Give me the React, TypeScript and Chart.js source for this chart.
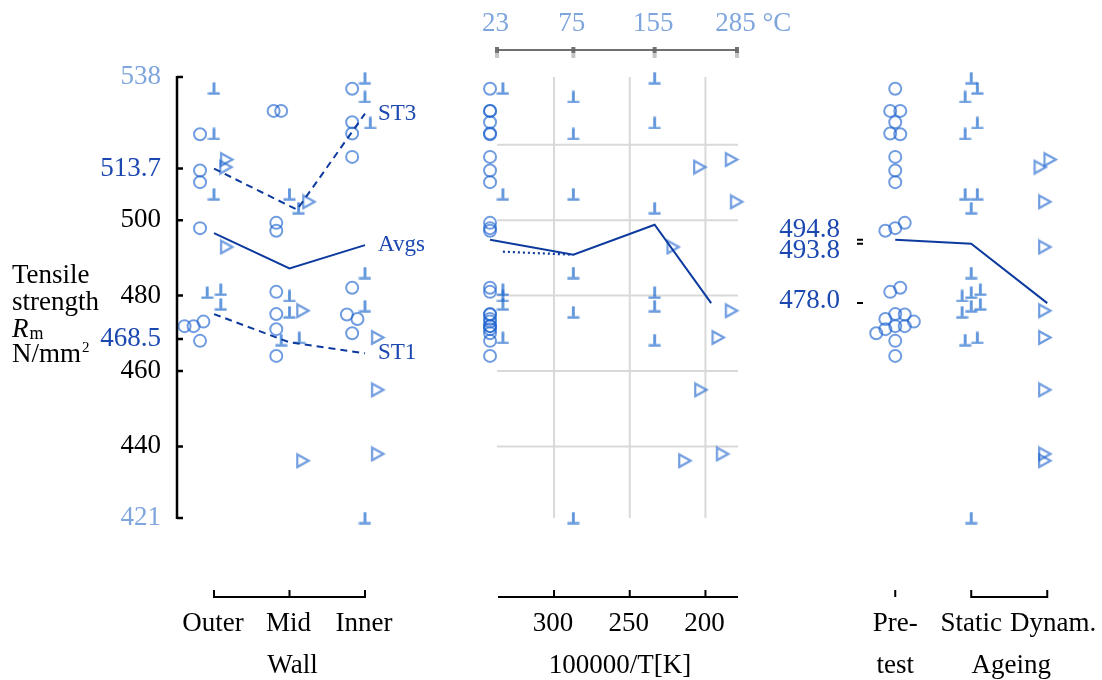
import React, { useEffect, useRef } from 'react';
import { Chart, registerables } from 'chart.js';

Chart.register(...registerables);

// ---------------- data ----------------
const wallPositions = ['Outer', 'Mid', 'Inner'];
const wallTitle = 'Wall';
const ageingLabels = [['Pre-', 'test'], ['Static'], ['Dynam.']];
const ageingTitle = 'Ageing';
const tempTicksC = [23, 75, 155, 285];
const tempUnit = '°C';
const invTTicks = [300, 250, 200];
const invTTitle = '100000/T[K]';
const rmTicks = [421, 440, 460, 468.5, 480, 500, 513.7, 538];
const rmGrid = [440, 460, 480, 500, 520];
const seriesNames = ['ST3', 'Avgs', 'ST1'];

// pre-test specimens (○), grouped Outer / Mid / Inner
const pretestRm = [
  522.8, 513.2, 510.1, 497.9, 471.9, 471.9, 473.1, 468.0,
  529.0, 529.0, 499.3, 497.2, 481.0, 475.1, 471.1, 464.0,
  534.9, 526.0, 523.0, 516.8, 482.1, 475.0, 473.8, 470.0,
];
const pretestWall = [0, 0, 0, 0, 0, 0, 0, 0, 1, 1, 1, 1, 1, 1, 1, 1, 2, 2, 2, 2, 2, 2, 2, 2];

// static ageing specimens (⊥)
const staticRm = [
  537.7, 535.0, 532.7, 525.8, 522.9, 506.9, 506.9, 503.2, 486.0,
  481.6, 480.8, 479.9, 477.7, 477.2, 475.6, 468.2, 468.8, 421.0,
];
const staticWall = [2, 0, 2, 2, 0, 0, 1, 1, 2, 0, 0, 1, 0, 2, 1, 1, 1, 2];
const staticTempC = [155, 23, 75, 155, 75, 23, 75, 155, 75, 23, 155, 23, 23, 155, 75, 155, 23, 75];

// dynamic ageing specimens (▷)
const dynamicRm = [516.1, 514.1, 492.9, 504.9, 476.0, 436.2, 468.9, 455.0, 438.0];
const dynamicWall = [0, 0, 0, 1, 1, 1, 2, 2, 2];
const dynamicInvT = [182.7, 203.6, 221.2, 179.3, 182.7, 213.5, 191.5, 202.9, 188.6];

// trend lines across the wall
const st3Rm = [513.7, 502.8, 528.3];
const avgWallRm = [496.6, 487.2, 493.4];
const st1Rm = [475.1, 467.6, 464.7];

// ---------------- layout (swarm offsets, in category units) ----------------
const pretestWallDx = [
  -0.185, -0.185, -0.185, -0.185, -0.39, -0.27, -0.14, -0.185,
  -0.21, -0.11, -0.175, -0.175, -0.175, -0.175, -0.175, -0.175,
  -0.17, -0.17, -0.17, -0.17, -0.17, -0.24, -0.1, -0.17,
];
const pretestAgeDx = [
  0.066, 0, 0, 0, 0, 0.125, 0.245, 0,
  -0.066, 0.066, 0.125, -0.13, -0.066, 0, -0.13, 0,
  0, 0, -0.066, 0, 0.066, 0.125, -0.13, -0.25,
];
const staticWallDx = [0, 0, 0, 0.07, 0, 0, 0, 0.12, 0, 0.09, -0.09, 0, 0.09, 0, 0, -0.11, 0.13, 0];
const staticAgeDx = [0, 0.08, -0.08, 0.08, -0.08, -0.08, 0.08, 0, 0, 0.12, 0, -0.12, 0.12, 0, -0.12, -0.08, 0.08, 0];
const dynamicWallDx = [0.17, 0.16, 0.17, 0.26, 0.18, 0.18, 0.17, 0.17, 0.17];
const dynamicAgeDx = [0.04, -0.09, -0.03, -0.03, -0.03, -0.03, -0.03, -0.03, -0.03];
const st3Dx = [0, 0.1, 0];
const PRE_COLUMN_SHIFT = 4.6; // ○ column beside 23 °C (100000/T units)
const STATIC_23_SHIFT = -3.9; // ⊥ column beside 23 °C

const W = 1102;
const H = 680;
const PLOT_TOP = 77;
const PLOT_BOTTOM = 518;

const SERIF = '"Liberation Serif", "Times New Roman", serif';
const FONT = `27px ${SERIF}`;
const LABEL_FONT = `23px ${SERIF}`;
const INK = '#000000';
const PALE_TEXT = '#7ea6dd';
const DEEP_TEXT = '#1b47b0';
const LINE = '#0d3a9e';
const MARK = 'rgba(25, 95, 205, 0.62)';
const TACK = 'rgba(30, 105, 205, 0.72)';
const GRID = '#d9d9d9';
const AXIS_GRAY = '#707070';

const RM_MIN = rmTicks[0];
const RM_MAX = rmTicks[rmTicks.length - 1];

const invT = (c: number) => 100000 / (c + 273.15);
const mean = (a: number[]) => a.reduce((s, v) => s + v, 0) / a.length;
const staticAt = (t: number) => staticRm.filter((_, i) => staticTempC[i] === t);

function tackMarker() {
  const c = document.createElement('canvas');
  c.width = 13;
  c.height = 13;
  const g = c.getContext('2d')!;
  g.strokeStyle = TACK;
  g.lineWidth = 2.8;
  g.beginPath();
  g.moveTo(6.5, 0.5);
  g.lineTo(6.5, 10.6);
  g.stroke();
  g.lineWidth = 2.2;
  g.beginPath();
  g.moveTo(0.5, 11.6);
  g.lineTo(12.5, 11.6);
  g.stroke();
  return c;
}

function triangleMarker() {
  const c = document.createElement('canvas');
  c.width = 16;
  c.height = 17;
  const g = c.getContext('2d')!;
  g.strokeStyle = MARK;
  g.lineWidth = 2.2;
  g.beginPath();
  g.moveTo(2.2, 2.2);
  g.lineTo(13.6, 8.5);
  g.lineTo(2.2, 14.8);
  g.closePath();
  g.stroke();
  return c;
}

function baseOptions(left: number, right: number, x: any) {
  return {
    responsive: false,
    animation: false,
    devicePixelRatio: 1,
    events: [],
    layout: { padding: { left, right: W - right, top: PLOT_TOP, bottom: H - PLOT_BOTTOM } },
    plugins: { legend: { display: false }, tooltip: { enabled: false } },
    scales: {
      x: { type: 'linear', display: false, ...x },
      y: { type: 'linear', display: false, min: RM_MIN, max: RM_MAX },
    },
  };
}

const lineSet = (data: any[], dash: number[], width = 2) => ({
  data,
  showLine: true,
  clip: false,
  borderColor: LINE,
  borderWidth: width,
  borderDash: dash,
  pointRadius: 0,
  fill: false,
  tension: 0,
});
const circleSet = (data: any[]) => ({
  data,
  clip: false,
  pointStyle: 'circle',
  pointRadius: 6,
  borderWidth: 2,
  borderColor: MARK,
  backgroundColor: 'rgba(0,0,0,0)',
});
const imageSet = (data: any[], img: HTMLCanvasElement) => ({
  data,
  clip: false,
  pointStyle: img,
  pointRadius: 6,
  borderWidth: 0,
});

function drawBracket(ctx: CanvasRenderingContext2D, xs: number[], y: number, joined: boolean) {
  ctx.beginPath();
  if (joined) {
    ctx.moveTo(xs[0], y);
    ctx.lineTo(xs[xs.length - 1], y);
  }
  xs.forEach((px) => {
    ctx.moveTo(px, y + (joined ? 1 : 0));
    ctx.lineTo(px, y - 7);
  });
  ctx.strokeStyle = INK;
  ctx.lineWidth = 2;
  ctx.stroke();
}

// Left panel: wall position
const wallDecor = {
  id: 'wallDecor',
  afterDraw(chart: any) {
    const { ctx, chartArea: a, scales } = chart;
    const { x, y } = scales;
    ctx.save();
    // vertical Rm axis with inward ticks
    ctx.strokeStyle = INK;
    ctx.lineWidth = 2.5;
    ctx.beginPath();
    ctx.moveTo(a.left, y.getPixelForValue(RM_MAX) - 1);
    ctx.lineTo(a.left, y.getPixelForValue(RM_MIN) + 1);
    rmTicks.forEach((v) => {
      const py = y.getPixelForValue(v);
      ctx.moveTo(a.left, py);
      ctx.lineTo(a.left + 6, py);
    });
    ctx.stroke();
    ctx.font = FONT;
    ctx.textAlign = 'right';
    ctx.textBaseline = 'middle';
    rmTicks.forEach((v) => {
      ctx.fillStyle = v === RM_MIN || v === RM_MAX ? PALE_TEXT : Number.isInteger(v) ? INK : DEEP_TEXT;
      ctx.fillText(String(v), a.left - 16, y.getPixelForValue(v));
    });
    // axis title
    ctx.textAlign = 'left';
    ctx.textBaseline = 'alphabetic';
    ctx.fillStyle = INK;
    const tx = 12;
    ctx.fillText('Tensile', tx, 283);
    ctx.fillText('strength', tx, 310);
    ctx.font = `italic ${FONT}`;
    ctx.fillText('R', tx, 337);
    const rw = ctx.measureText('R').width;
    ctx.font = `18px ${SERIF}`;
    ctx.fillText('m', tx + rw + 1, 339);
    ctx.font = FONT;
    ctx.fillText('N/mm', tx, 362);
    const nw = ctx.measureText('N/mm').width;
    ctx.font = `15px ${SERIF}`;
    ctx.fillText('2', tx + nw + 1, 352);
    // bottom category axis
    const by = a.bottom + 79;
    drawBracket(ctx, wallPositions.map((_, i) => x.getPixelForValue(i)), by, true);
    ctx.font = FONT;
    ctx.textAlign = 'center';
    ctx.fillStyle = INK;
    wallPositions.forEach((n, i) => ctx.fillText(n, x.getPixelForValue(i) - 1, by + 34));
    ctx.fillText(wallTitle, x.getPixelForValue(1) + 3, by + 76);
    // series labels at the line ends
    ctx.font = LABEL_FONT;
    ctx.fillStyle = DEEP_TEXT;
    ctx.textAlign = 'left';
    ctx.textBaseline = 'middle';
    [st3Rm, avgWallRm, st1Rm].forEach((s, k) => {
      ctx.fillText(seriesNames[k], x.getPixelForValue(2) + 13, y.getPixelForValue(s[2]));
    });
    ctx.restore();
  },
};

// Middle panel: ageing temperature
const tempDecor = {
  id: 'tempDecor',
  beforeDatasetsDraw(chart: any) {
    const { ctx, scales } = chart;
    const { x, y } = scales;
    const x0 = x.getPixelForValue(invT(tempTicksC[0]));
    const x1 = x.getPixelForValue(invT(tempTicksC[tempTicksC.length - 1]));
    ctx.save();
    ctx.strokeStyle = GRID;
    ctx.lineWidth = 2;
    ctx.beginPath();
    rmGrid.forEach((v) => {
      const py = y.getPixelForValue(v);
      ctx.moveTo(x0, py);
      ctx.lineTo(x1 + 1, py);
    });
    invTTicks.forEach((v) => {
      const px = x.getPixelForValue(v);
      ctx.moveTo(px, y.getPixelForValue(RM_MAX));
      ctx.lineTo(px, y.getPixelForValue(RM_MIN));
    });
    ctx.stroke();
    ctx.restore();
  },
  afterDraw(chart: any) {
    const { ctx, chartArea: a, scales } = chart;
    const { x } = scales;
    const x0 = x.getPixelForValue(invT(tempTicksC[0]));
    const x1 = x.getPixelForValue(invT(tempTicksC[tempTicksC.length - 1]));
    ctx.save();
    // top temperature axis
    const ty = a.top - 27;
    ctx.strokeStyle = AXIS_GRAY;
    ctx.lineWidth = 2;
    ctx.beginPath();
    ctx.moveTo(x0, ty);
    ctx.lineTo(x1, ty);
    ctx.stroke();
    tempTicksC.forEach((t) => {
      const px = x.getPixelForValue(invT(t));
      ctx.fillStyle = 'rgba(100,100,100,0.9)';
      ctx.fillRect(px - 2, ty - 3, 4, 6);
      ctx.fillStyle = 'rgba(150,150,150,0.55)';
      ctx.fillRect(px - 2, ty + 3, 4, 5);
    });
    ctx.font = FONT;
    ctx.fillStyle = PALE_TEXT;
    ctx.textBaseline = 'alphabetic';
    tempTicksC.forEach((t, i) => {
      const px = x.getPixelForValue(invT(t)) - 1.5;
      const s = String(t);
      if (i === tempTicksC.length - 1) {
        const w = ctx.measureText(s).width;
        ctx.textAlign = 'left';
        ctx.fillText(`${s} ${tempUnit}`, px - w / 2, ty - 19);
      } else {
        ctx.textAlign = 'center';
        ctx.fillText(s, px, ty - 19);
      }
    });
    // bottom 100000/T axis
    const by = a.bottom + 79;
    ctx.strokeStyle = INK;
    ctx.lineWidth = 2;
    ctx.beginPath();
    ctx.moveTo(x0 + 1, by);
    ctx.lineTo(x1 + 1, by);
    invTTicks.forEach((v) => {
      const px = x.getPixelForValue(v);
      ctx.moveTo(px, by);
      ctx.lineTo(px, by - 7);
    });
    ctx.stroke();
    ctx.fillStyle = INK;
    ctx.textAlign = 'center';
    invTTicks.forEach((v) => ctx.fillText(String(v), x.getPixelForValue(v) - 1, by + 34));
    ctx.fillText(invTTitle, (x0 + x1) / 2 + 3, by + 76);
    ctx.restore();
  },
};

// Right panel: ageing condition
const ageMeans = [mean(pretestRm), mean(staticRm), mean(dynamicRm)];
const ageLabelNudge = [-10, 7, -2];

const ageDecor = {
  id: 'ageDecor',
  afterDraw(chart: any) {
    const { ctx, chartArea: a, scales } = chart;
    const { x, y } = scales;
    ctx.save();
    ctx.strokeStyle = INK;
    ctx.lineWidth = 2;
    ctx.beginPath();
    ageMeans.forEach((m) => {
      const py = y.getPixelForValue(m);
      ctx.moveTo(a.left - 1, py);
      ctx.lineTo(a.left + 5, py);
    });
    ctx.stroke();
    ctx.font = FONT;
    ctx.fillStyle = DEEP_TEXT;
    ctx.textAlign = 'right';
    ctx.textBaseline = 'middle';
    ageMeans.forEach((m, i) => {
      ctx.fillText(m.toFixed(1), a.left - 18, y.getPixelForValue(m) + ageLabelNudge[i]);
    });
    const by = a.bottom + 79;
    drawBracket(ctx, [x.getPixelForValue(0)], by, false);
    drawBracket(ctx, [x.getPixelForValue(1), x.getPixelForValue(2)], by, true);
    ctx.fillStyle = INK;
    ctx.textAlign = 'center';
    ctx.textBaseline = 'alphabetic';
    ageingLabels.forEach((rows, i) => {
      rows.forEach((r, k) => ctx.fillText(r, x.getPixelForValue(i) + (i === 2 ? 6 : 0), by + 34 + k * 42));
    });
    ctx.fillText(ageingTitle, x.getPixelForValue(1.5) + 2, by + 76);
    ctx.restore();
  },
};

export default function App() {
  const wallRef = useRef<HTMLCanvasElement>(null);
  const tempRef = useRef<HTMLCanvasElement>(null);
  const ageRef = useRef<HTMLCanvasElement>(null);

  useEffect(() => {
    const tack = tackMarker();
    const tri = triangleMarker();

    const wallChart = new Chart(wallRef.current!, {
      type: 'scatter',
      data: {
        datasets: [
          lineSet(st3Rm.map((v, i) => ({ x: i + st3Dx[i], y: v })), [7, 5]),
          lineSet(avgWallRm.map((v, i) => ({ x: i, y: v })), []),
          lineSet(st1Rm.map((v, i) => ({ x: i, y: v })), [7, 5]),
          circleSet(pretestRm.map((v, i) => ({ x: pretestWall[i] + pretestWallDx[i], y: v }))),
          imageSet(staticRm.map((v, i) => ({ x: staticWall[i] + staticWallDx[i], y: v })), tack),
          imageSet(dynamicRm.map((v, i) => ({ x: dynamicWall[i] + dynamicWallDx[i], y: v })), tri),
        ],
      } as any,
      options: baseOptions(177, 177 + 2.99 * 75.5, { min: -0.49, max: 2.5 }) as any,
      plugins: [wallDecor],
    });

    const tLeft = invT(tempTicksC[0]);
    const tRight = invT(tempTicksC[tempTicksC.length - 1]);
    const pxPerUnit = (737 - 497) / (tLeft - tRight);
    const margin = 18;
    const preX = tLeft + PRE_COLUMN_SHIFT;
    const staticX = (t: number) => invT(t) + (t === tempTicksC[0] ? STATIC_23_SHIFT : 0);

    const tempChart = new Chart(tempRef.current!, {
      type: 'scatter',
      data: {
        datasets: [
          lineSet(
            [
              { x: preX, y: mean(pretestRm) },
              { x: invT(tempTicksC[1]), y: mean(staticAt(tempTicksC[1])) },
              { x: invT(tempTicksC[2]), y: mean(staticAt(tempTicksC[2])) },
              { x: mean(dynamicInvT), y: mean(dynamicRm) },
            ],
            [],
          ),
          lineSet(
            [
              { x: staticX(tempTicksC[0]), y: mean(staticAt(tempTicksC[0])) },
              { x: invT(tempTicksC[1]), y: mean(staticAt(tempTicksC[1])) },
            ],
            [2, 3],
            2.2,
          ),
          circleSet(pretestRm.map((v) => ({ x: preX, y: v }))),
          imageSet(staticRm.map((v, i) => ({ x: staticX(staticTempC[i]), y: v })), tack),
          imageSet(dynamicRm.map((v, i) => ({ x: dynamicInvT[i], y: v })), tri),
        ],
      } as any,
      options: baseOptions(497 - margin * pxPerUnit, 737 + margin * pxPerUnit, {
        min: tRight - margin,
        max: tLeft + margin,
        reverse: true,
      }) as any,
      plugins: [tempDecor],
    });

    const ageChart = new Chart(ageRef.current!, {
      type: 'scatter',
      data: {
        datasets: [
          lineSet(ageMeans.map((v, i) => ({ x: i, y: v })), []),
          circleSet(pretestRm.map((v, i) => ({ x: pretestAgeDx[i], y: v }))),
          imageSet(staticRm.map((v, i) => ({ x: 1 + staticAgeDx[i], y: v })), tack),
          imageSet(dynamicRm.map((v, i) => ({ x: 2 + dynamicAgeDx[i], y: v })), tri),
        ],
      } as any,
      options: baseOptions(858, 858 + 2.99 * 76, { min: -0.49, max: 2.5 }) as any,
      plugins: [ageDecor],
    });

    return () => {
      wallChart.destroy();
      tempChart.destroy();
      ageChart.destroy();
    };
  }, []);

  const layer: React.CSSProperties = { position: 'absolute', left: 0, top: 0, width: W, height: H };
  return (
    <div style={{ position: 'absolute', left: 0, top: 0, width: W, height: H, background: '#ffffff' }}>
      <canvas ref={wallRef} width={W} height={H} style={layer} />
      <canvas ref={tempRef} width={W} height={H} style={layer} />
      <canvas ref={ageRef} width={W} height={H} style={layer} />
    </div>
  );
}
